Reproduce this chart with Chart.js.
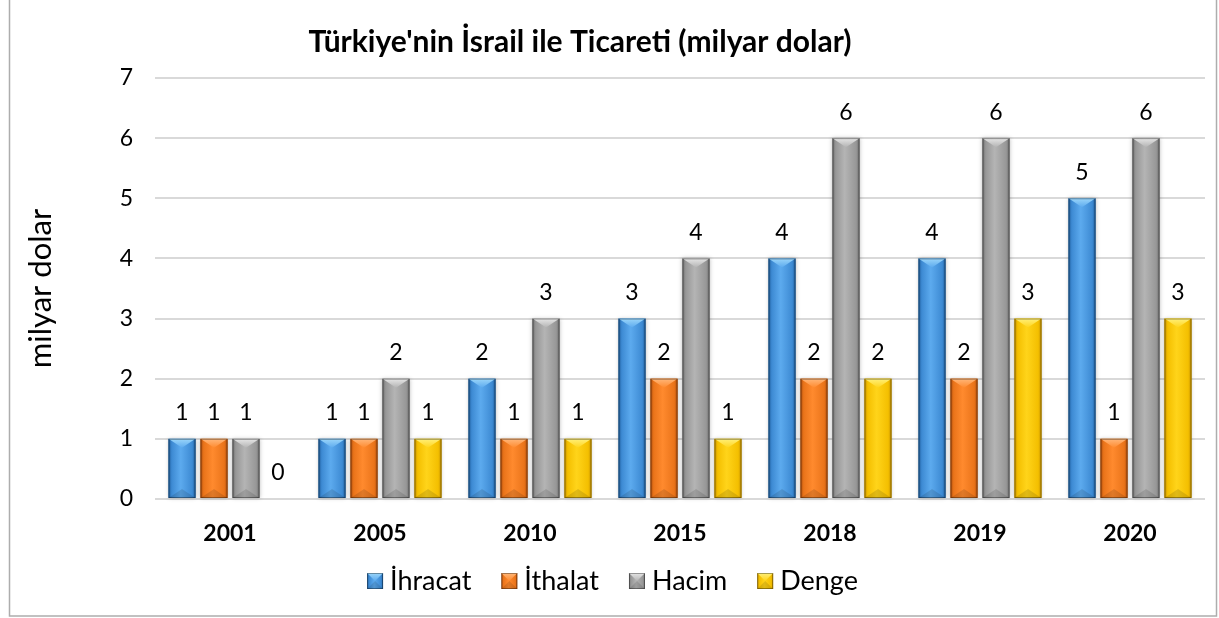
<!DOCTYPE html>
<html><head><meta charset="utf-8">
<script src="https://cdn.jsdelivr.net/npm/chart.js@4.4.1/dist/chart.umd.min.js"></script>
<style>html,body{margin:0;padding:0;background:#fff;overflow:hidden}#wrap{width:1219px;height:618px;position:relative}canvas{display:block}</style>
</head><body><div id="wrap"><canvas id="c" width="1219" height="618"></canvas></div>
<script>
const categories = ['2001','2005','2010','2015','2018','2019','2020'];
const ihracat = [1,1,2,3,4,4,5];
const ithalat = [1,1,1,2,2,2,1];
const hacim   = [1,2,3,4,6,6,6];
const denge   = [0,1,1,1,2,3,3];
const seriesNames = ['İhracat','İthalat','Hacim','Denge'];
const yMax = 7;
const chartTitle = "Türkiye'nin İsrail ile Ticareti (milyar dolar)";
const yTitle = 'milyar dolar';

const palette = [
  {dark:'#1E5C9A', mid:'#3D8AD3', light:'#5CAAEE', top:'#9BD6FA'},
  {dark:'#B04E0C', mid:'#EA741A', light:'#FF8A2E', top:'#FFB77A'},
  {dark:'#6E6E6E', mid:'#979797', light:'#B4B4B4', top:'#E6E6E6'},
  {dark:'#C28F00', mid:'#F4BF00', light:'#FFD41A', top:'#FFF07A'}
];
const FONT = 'Lato, "Open Sans", sans-serif';
const LEG_FONT = 27, LEG_BOX = 16, LEG_GAP = 7, LEG_PAD = 30;

function drawBevelBox(ctx, left, top, w, h, p){
  const g = ctx.createLinearGradient(left,0,left+w,0);
  g.addColorStop(0, p.dark);
  g.addColorStop(0.12, p.mid);
  g.addColorStop(0.45, p.light);
  g.addColorStop(0.88, p.mid);
  g.addColorStop(1, p.dark);
  ctx.fillStyle = g;
  ctx.fillRect(left, top, w, h);
  const b = Math.min(9, h/2);
  ctx.beginPath();
  ctx.moveTo(left, top); ctx.lineTo(left+w, top); ctx.lineTo(left+w/2, top+b); ctx.closePath();
  const tg = ctx.createLinearGradient(0,top,0,top+b);
  tg.addColorStop(0, p.top); tg.addColorStop(1, p.light);
  ctx.fillStyle = tg; ctx.fill();
  ctx.beginPath();
  ctx.moveTo(left, top+h); ctx.lineTo(left+w, top+h); ctx.lineTo(left+w/2, top+h-b); ctx.closePath();
  ctx.fillStyle = 'rgba(0,0,0,0.12)'; ctx.fill();
  ctx.strokeStyle = 'rgba(0,0,0,0.35)'; ctx.lineWidth = 1;
  ctx.strokeRect(left+0.5, top+0.5, w-1, h-1);
}

const barDeco = {
  id:'barDeco',
  afterDatasetsDraw(chart){
    const ctx = chart.ctx;
    chart.data.datasets.forEach((ds, i) => {
      const meta = chart.getDatasetMeta(i);
      if (meta.hidden) return;
      meta.data.forEach((el, j) => {
        const {x, y, base, width} = el.getProps(['x','y','base','width'], true);
        const h = base - y;
        ctx.save();
        if (h > 0.5){
          ctx.shadowColor = 'rgba(0,0,0,0.25)'; ctx.shadowBlur = 4;
          ctx.fillStyle = palette[i].mid;
          ctx.fillRect(x-width/2, y, width, h);
          ctx.shadowBlur = 0; ctx.shadowColor = 'transparent';
          drawBevelBox(ctx, x-width/2, y, width, h, palette[i]);
        }
        ctx.fillStyle = '#000';
        ctx.font = '23px ' + FONT;
        ctx.textAlign = 'center'; ctx.textBaseline = 'middle';
        ctx.fillText(String(ds.data[j]), x, y - 26);
        ctx.restore();
      });
    });
  },
  afterDraw(chart){
    const ctx = chart.ctx;
    ctx.save();
    const xs = chart.scales.x;
    ctx.fillStyle = '#000';
    ctx.font = 'bold 23px ' + FONT;
    ctx.textAlign = 'center'; ctx.textBaseline = 'middle';
    categories.forEach((c, i) => ctx.fillText(c, xs.getPixelForValue(i), chart.chartArea.bottom + 35));
    const lg = chart.legend;
    if (lg && lg.legendHitBoxes){
      lg.legendHitBoxes.forEach((hb, i) => {
        const top = hb.top + (hb.height - LEG_BOX)/2;
        ctx.fillStyle = '#fff';
        ctx.fillRect(hb.left-1, top-1, LEG_BOX+2, LEG_BOX+2);
        drawBevelBox(ctx, hb.left, top, LEG_BOX, LEG_BOX, palette[i]);
      });
    }
    ctx.fillStyle = '#000';
    ctx.font = 'bold 30px ' + FONT;
    ctx.textAlign = 'center'; ctx.textBaseline = 'middle';
    ctx.fillText(chartTitle, 580, 42);
    ctx.strokeStyle = '#ADADAD'; ctx.lineWidth = 1.5;
    ctx.strokeRect(9.5, -2, 1207, 618);
    ctx.restore();
  }
};

const seriesData = [ihracat, ithalat, hacim, denge];
new Chart(document.getElementById('c'), {
  type:'bar',
  data:{
    labels: categories,
    datasets: seriesNames.map((n,i)=>({
      label:n, data:seriesData[i],
      backgroundColor: 'rgba(0,0,0,0)',
      borderWidth:0,
      categoryPercentage:0.853, barPercentage:0.845
    }))
  },
  options:{
    responsive:false, animation:false, maintainAspectRatio:false,
    devicePixelRatio:1,
    layout:{padding:{left:20, right:14, top:78, bottom:13.5}},
    plugins:{
      title:{display:false}, tooltip:{enabled:false},
      legend:{
        position:'bottom',
        labels:{
          boxWidth: LEG_BOX + LEG_GAP - LEG_FONT/2, boxHeight:16, padding:LEG_PAD,
          color:'#000', font:{family:FONT, size:LEG_FONT},
          generateLabels(chart){
            return chart.data.datasets.map((d,i)=>({text:d.label, fillStyle:'rgba(0,0,0,0)', strokeStyle:'rgba(0,0,0,0)', lineWidth:0, datasetIndex:i, hidden:false}));
          }
        }
      }
    },
    scales:{
      x:{
        grid:{display:false, drawTicks:false},
        border:{display:false},
        ticks:{display:false},
        afterFit(s){ s.height = 68.5 - LEG_PAD; }
      },
      y:{
        min:0, max:yMax,
        ticks:{stepSize:1, color:'#000', font:{family:FONT, size:23}, padding:22},
        grid:{color:'#D9D9D9', lineWidth:2, drawTicks:false},
        border:{display:false},
        title:{display:true, text:yTitle, color:'#000', font:{family:FONT, size:31}, padding:{top:2,bottom:0}},
        afterFit(s){ s.width = 135; }
      }
    }
  },
  plugins:[barDeco]
});
</script>
</body></html>
